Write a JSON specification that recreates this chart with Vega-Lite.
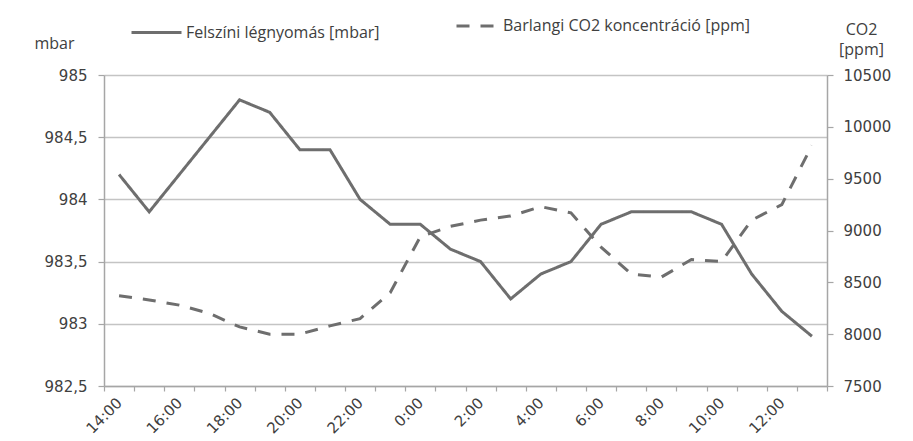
{
  "$schema": "https://vega.github.io/schema/vega-lite/v6.json",
  "width": 723,
  "height": 311,
  "autosize": {"type": "none"},
  "padding": {"left": 104, "top": 75, "right": 86, "bottom": 55},
  "background": "white",
  "config": {
    "view": {"stroke": null},
    "font": "DejaVu Sans",
    "axis": {"labelFont": "DejaVu Sans", "labelFontSize": 15, "labelColor": "#404040", "domainColor": "#a6a6a6", "tickColor": "#a6a6a6", "domainWidth": 1.5, "tickWidth": 1.2}
  },
  "data": {
    "values": [
      {"t": "14:00", "p": 984.2, "c": 8370},
      {"t": "15:00", "p": 983.9, "c": 8330},
      {"t": "16:00", "p": 984.2, "c": 8280},
      {"t": "17:00", "p": 984.5, "c": 8200},
      {"t": "18:00", "p": 984.8, "c": 8070},
      {"t": "19:00", "p": 984.7, "c": 8000},
      {"t": "20:00", "p": 984.4, "c": 8000},
      {"t": "21:00", "p": 984.4, "c": 8080},
      {"t": "22:00", "p": 984.0, "c": 8150},
      {"t": "23:00", "p": 983.8, "c": 8400},
      {"t": "0:00", "p": 983.8, "c": 8940},
      {"t": "1:00", "p": 983.6, "c": 9040},
      {"t": "2:00", "p": 983.5, "c": 9100},
      {"t": "3:00", "p": 983.2, "c": 9140},
      {"t": "4:00", "p": 983.4, "c": 9230},
      {"t": "5:00", "p": 983.5, "c": 9170},
      {"t": "6:00", "p": 983.8, "c": 8840},
      {"t": "7:00", "p": 983.9, "c": 8580},
      {"t": "8:00", "p": 983.9, "c": 8550},
      {"t": "9:00", "p": 983.9, "c": 8720},
      {"t": "10:00", "p": 983.8, "c": 8700},
      {"t": "11:00", "p": 983.4, "c": 9100},
      {"t": "12:00", "p": 983.1, "c": 9250},
      {"t": "13:00", "p": 982.9, "c": 9820}
    ]
  },
  "encoding": {
    "x": {
      "field": "t",
      "type": "ordinal",
      "sort": null,
      "bandPosition": 0.5,
      "scale": {"type": "band", "paddingInner": 0, "paddingOuter": 0},
      "axis": {
        "title": null,
        "grid": false,
        "tickBand": "extent",
        "tickSize": 5,
        "labelAngle": -45,
        "labelAlign": "right",
        "labelBaseline": "middle",
        "labelPadding": 9,
        "labelExpr": "parseInt(split(datum.value, ':')[0]) % 2 == 0 ? datum.value : ''"
      }
    }
  },
  "layer": [
    {
      "mark": {"type": "line", "color": "#6e6e6e", "strokeWidth": 3},
      "encoding": {
        "y": {
          "field": "p",
          "type": "quantitative",
          "scale": {"domain": [982.5, 985], "nice": false, "zero": false},
          "axis": {
            "orient": "left",
            "values": [982.5, 983, 983.5, 984, 984.5, 985],
            "labelExpr": "replace(format(datum.value, ''), '.', ',')",
            "grid": true,
            "gridColor": "#c4c4c4",
            "gridWidth": 1.5,
            "tickSize": 6,
            "labelPadding": 11,
            "title": "mbar",
            "titleAngle": 0,
            "titleX": -50,
            "titleY": -32,
            "titleAlign": "center",
            "titleBaseline": "middle",
            "titleFont": "Open Sans",
            "titleFontSize": 16,
            "titleFontWeight": "normal",
            "titleColor": "#404040"
          }
        },
        "strokeDash": {
          "datum": "Felszíni légnyomás [mbar]",
          "type": "nominal",
          "scale": {"range": [[1, 0]]},
          "legend": {
            "orient": "none",
            "legendX": 26,
            "legendY": -69,
            "title": null,
            "padding": 0,
            "symbolType": "stroke",
            "symbolSize": 2500,
            "symbolStrokeWidth": 3,
            "symbolStrokeColor": "#6e6e6e",
            "labelFont": "Open Sans",
            "labelFontSize": 16,
            "labelColor": "#404040",
            "labelOffset": 3,
            "labelLimit": 400
          }
        }
      }
    },
    {
      "mark": {"type": "line", "color": "#6e6e6e", "strokeWidth": 3},
      "encoding": {
        "y": {
          "field": "c",
          "type": "quantitative",
          "scale": {"domain": [7500, 10500], "nice": false, "zero": false},
          "axis": {
            "orient": "right",
            "values": [7500, 8000, 8500, 9000, 9500, 10000, 10500],
            "format": "d",
            "grid": false,
            "tickSize": 6,
            "labelPadding": 10,
            "title": ["CO2", "[ppm]"],
            "titleAngle": 0,
            "titleX": 34,
            "titleY": -54,
            "titleAlign": "center",
            "titleBaseline": "top",
            "titleLineHeight": 20,
            "titleFont": "Open Sans",
            "titleFontSize": 16,
            "titleFontWeight": "normal",
            "titleColor": "#404040"
          }
        },
        "strokeDash": {
          "datum": "Barlangi CO2 koncentráció [ppm]",
          "type": "nominal",
          "scale": {"range": [[13, 11]]},
          "legend": {
            "orient": "none",
            "legendX": 351,
            "legendY": -69,
            "title": null,
            "padding": 0,
            "symbolType": "stroke",
            "symbolSize": 1369,
            "symbolStrokeWidth": 3,
            "symbolStrokeColor": "#6e6e6e",
            "labelFont": "Open Sans",
            "labelFontSize": 16,
            "labelColor": "#404040",
            "labelOffset": 8,
            "labelLimit": 400
          }
        }
      }
    }
  ],
  "resolve": {"scale": {"y": "independent", "strokeDash": "independent"}}
}
